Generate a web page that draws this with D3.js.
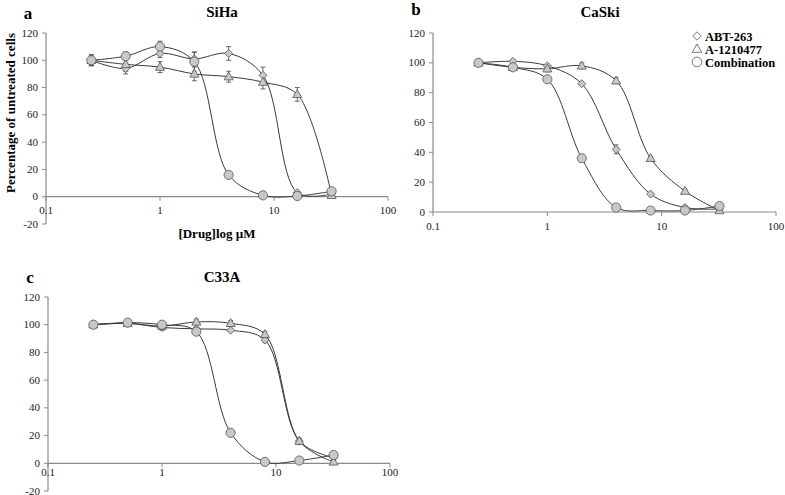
<!DOCTYPE html>
<html><head><meta charset="utf-8">
<script src="https://cdn.jsdelivr.net/npm/d3@7"></script>
<style>body{margin:0;background:#fff}svg{display:block}</style>
</head><body>
<svg id="c" width="785" height="495" font-family="'Liberation Serif', 'DejaVu Serif', serif"></svg>
<script>
const doses = [0.25, 0.5, 1, 2, 4, 8, 16, 32];
const xTicks = [0.1, 1, 10, 100];
const seriesNames = ["ABT-263", "A-1210477", "Combination"];

// SiHa
const sihaABT = [100, 94, 105, 101, 105, 89, 3, 2];
const sihaA12 = [100, 97, 95, 90, 88, 84, 75, 1];
const sihaCombo = [100, 103, 110, 99, 16, 1, 0.5, 4];
const sihaABTErr = [3, 4, 3, 5, 5, 6, 1, 1];
const sihaA12Err = [4, 5, 4, 5, 4, 5, 5, 1];
const sihaComboErr = [4, 3, 4, 7, 1, 1, 1, 1];

// CaSki
const caskiABT = [100, 101, 98, 86, 42, 12, 3, 2];
const caskiA12 = [100, 97, 96, 98, 88, 36, 14, 1];
const caskiCombo = [100, 97, 89, 36, 3, 1, 1, 4];
const caskiABTErr = [1, 1, 1, 1, 3, 1, 1, 1];
const caskiA12Err = [1, 1, 2, 2, 2, 1, 1, 1];
const caskiComboErr = [1, 1, 1, 1, 1, 1, 1, 1];

// C33A
const c33ABT = [100, 101, 98, 97, 96, 89, 16, 4];
const c33A12 = [100, 101, 99, 102, 101, 93, 16, 1];
const c33Combo = [100, 101.5, 100, 95, 22, 1, 2, 6];
const c33ABTErr = [1, 2, 2, 1, 1, 2, 2, 1];
const c33A12Err = [1, 1, 1, 2, 2, 2, 2, 1];
const c33ComboErr = [1, 1, 1, 1, 1, 1, 1, 1];

const svg = d3.select("#c");
const FONT = "'Liberation Serif', 'DejaVu Serif', serif";
const lineCol = "#3a3a3a", axisCol = "#8a8a8a", fillCol = "#c8c8c8";

const panels = [
  {letter:"a", title:"SiHa", x0:46, x1:388, yTop:33, yBot:224, yMin:-20,
   data:[sihaABT, sihaA12, sihaCombo], err:[sihaABTErr, sihaA12Err, sihaComboErr],
   titleX:222, titleY:17, letterX:28, letterY:19, xTitle:true, yTitle:true, labelGap:13},
  {letter:"b", title:"CaSki", x0:433, x1:776, yTop:33, yBot:212, yMin:0,
   data:[caskiABT, caskiA12, caskiCombo], err:[caskiABTErr, caskiA12Err, caskiComboErr],
   titleX:600, titleY:17, letterX:416, letterY:15, legend:true, labelGap:14},
  {letter:"c", title:"C33A", x0:48, x1:390, yTop:297, yBot:491, yMin:-20,
   data:[c33ABT, c33A12, c33Combo], err:[c33ABTErr, c33A12Err, c33ComboErr],
   titleX:222, titleY:282, letterX:30, letterY:283, labelGap:9}
];

function drawMarker(g, k, x, y, fill, s) {
  s = s || 1;
  if (k === 0) {
    const r = 4 * s;
    g.append("path").attr("d", `M${x},${y - r}L${x + r},${y}L${x},${y + r}L${x - r},${y}Z`)
      .attr("fill", fill).attr("stroke", "#555").attr("stroke-width", 0.8);
  } else if (k === 1) {
    const w = 4.5 * s, h = 8 * s;
    g.append("path").attr("d", `M${x},${y - h * 0.6}L${x + w},${y + h * 0.4}L${x - w},${y + h * 0.4}Z`)
      .attr("fill", fill).attr("stroke", "#555").attr("stroke-width", 0.8);
  } else {
    g.append("circle").attr("cx", x).attr("cy", y).attr("r", 4.6 * s).attr("fill", fill)
      .attr("stroke", "#555").attr("stroke-width", 0.8);
  }
}

panels.forEach(p => {
  const g = svg.append("g").attr("font-family", FONT);
  const x = d3.scaleLog().domain([0.1, 100]).range([p.x0, p.x1]);
  const y = d3.scaleLinear().domain([p.yMin, 120]).range([p.yBot, p.yTop]);
  const yTicks = d3.range(p.yMin, 121, 20);

  g.append("line").attr("x1", p.x0).attr("x2", p.x0).attr("y1", y(120)).attr("y2", y(p.yMin))
    .attr("stroke", axisCol).attr("stroke-width", 1.2);
  yTicks.forEach(t => {
    g.append("line").attr("x1", p.x0 - 4).attr("x2", p.x0).attr("y1", y(t)).attr("y2", y(t))
      .attr("stroke", axisCol).attr("stroke-width", 1);
    g.append("text").attr("x", p.x0 - 8).attr("y", y(t) + 3.5).attr("text-anchor", "end")
      .attr("font-size", 11).attr("fill", "#222").text(t);
  });
  g.append("line").attr("x1", p.x0).attr("x2", p.x1).attr("y1", y(0)).attr("y2", y(0))
    .attr("stroke", axisCol).attr("stroke-width", 1.2);
  xTicks.forEach(t => {
    g.append("line").attr("x1", x(t)).attr("x2", x(t)).attr("y1", y(0)).attr("y2", y(0) + 4)
      .attr("stroke", axisCol).attr("stroke-width", 1);
    g.append("text").attr("x", x(t)).attr("y", y(0) + p.labelGap + 4).attr("text-anchor", "middle")
      .attr("font-size", 11).attr("fill", "#222").text(t);
  });

  g.append("text").attr("x", p.titleX).attr("y", p.titleY).attr("text-anchor", "middle")
    .attr("font-size", 15).attr("font-weight", "bold").text(p.title);
  g.append("text").attr("x", p.letterX).attr("y", p.letterY).attr("text-anchor", "middle")
    .attr("font-size", 17).attr("font-weight", "bold").text(p.letter);

  const line = d3.line().x(d => x(d[0])).y(d => y(d[1])).curve(d3.curveCatmullRom.alpha(0.5));
  p.data.forEach(vals => {
    g.append("path").attr("d", line(doses.map((d, i) => [d, vals[i]])))
      .attr("fill", "none").attr("stroke", lineCol).attr("stroke-width", 1);
  });
  p.data.forEach((vals, k) => {
    vals.forEach((v, i) => {
      const e = p.err[k][i];
      const cx = x(doses[i]);
      g.append("line").attr("x1", cx).attr("x2", cx).attr("y1", y(v - e)).attr("y2", y(v + e))
        .attr("stroke", "#444").attr("stroke-width", 0.8);
      [v - e, v + e].forEach(w => g.append("line").attr("x1", cx - 2.5).attr("x2", cx + 2.5)
        .attr("y1", y(w)).attr("y2", y(w)).attr("stroke", "#444").attr("stroke-width", 0.8));
    });
  });
  p.data.forEach((vals, k) => {
    vals.forEach((v, i) => drawMarker(g, k, x(doses[i]), y(v), fillCol));
  });

  if (p.xTitle) {
    g.append("text").attr("x", 217).attr("y", 238).attr("text-anchor", "middle")
      .attr("font-size", 13).attr("font-weight", "bold").text("[Drug]log µM");
  }
  if (p.yTitle) {
    g.append("text").attr("transform", "translate(15,113) rotate(-90)").attr("text-anchor", "middle")
      .attr("font-size", 13).attr("font-weight", "bold").attr("textLength", 160)
      .attr("lengthAdjust", "spacing").text("Percentage of untreated cells");
  }
  if (p.legend) {
    seriesNames.forEach((n, k) => {
      const ly = 36 + k * 13;
      drawMarker(g, k, 697, ly, "#fff", 1.05);
      g.append("text").attr("x", 705).attr("y", ly + 4.5).attr("font-size", 12.5)
        .attr("font-weight", "bold").text(n);
    });
  }
});
</script>
</body></html>
